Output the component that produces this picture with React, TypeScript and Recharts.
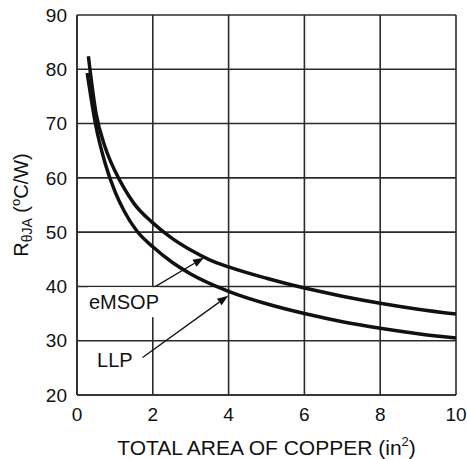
import { CartesianGrid, Line, LineChart, ReferenceDot, ReferenceLine, XAxis, YAxis } from 'recharts'

const xTicks = [0, 2, 4, 6, 8, 10]
const yTicks = [20, 30, 40, 50, 60, 70, 80, 90]

// copper area (in^2) vs thermal resistance (°C/W)
const emsopArea = [0.3, 0.5, 0.75, 1, 1.25, 1.5, 2, 2.5, 3, 3.5, 4, 5, 6, 7, 8, 9, 10]
const emsopTheta = [82.4, 72, 65.5, 61.3, 58, 55.3, 51.7, 48.9, 46.7, 44.9, 43.6, 41.5, 39.7, 38.2, 36.9, 35.8, 34.9]

const llpArea = [0.27, 0.5, 0.75, 1, 1.25, 1.58, 2, 2.5, 3, 4, 5, 6, 7, 8, 9, 10]
const llpTheta = [79.3, 69.5, 62.5, 57.5, 53.8, 50.2, 47.3, 44.5, 42.3, 39.1, 36.8, 35, 33.5, 32.3, 31.3, 30.5]

// annotation callouts: label position, arrow start, arrow end
const calloutNames = ['eMSOP', 'LLP']
const calloutText = [{ x: 1.24, y: 37.1 }, { x: 1.0, y: 26.5 }]
const calloutFrom = [{ x: 1.71, y: 38.5 }, { x: 1.73, y: 26.9 }]
const calloutTo = [{ x: 3.35, y: 45.3 }, { x: 3.99, y: 38.3 }]

const emsop = emsopArea.map((area, i) => ({ area, theta: emsopTheta[i] }))
const llp = llpArea.map((area, i) => ({ area, theta: llpTheta[i] }))

const INK = '#111'
const GRID = '#2b2b2b'
const FONT = 19

function Arrow(props: any) {
  const { x1, y1, x2, y2 } = props
  const ang = Math.atan2(y2 - y1, x2 - x1)
  const len = 11
  const w = 4
  const bx = x2 - len * Math.cos(ang)
  const by = y2 - len * Math.sin(ang)
  const px = -Math.sin(ang) * w
  const py = Math.cos(ang) * w
  return (
    <g>
      <line x1={x1} y1={y1} x2={bx} y2={by} stroke={INK} strokeWidth={1.3} />
      <polygon points={`${x2},${y2} ${bx + px},${by + py} ${bx - px},${by - py}`} fill={INK} />
    </g>
  )
}

function CalloutLabel(text: string) {
  return (props: any) => {
    const { cx, cy } = props
    const w = text.length * 13.5
    return (
      <g>
        <rect x={cx - w / 2 - 2} y={cy - 15} width={w + 4} height={30} fill="#fff" />
        <text x={cx} y={cy} dy="0.36em" textAnchor="middle" fontSize={FONT + 1} fill={INK}>
          {text}
        </text>
      </g>
    )
  }
}

function XTitle(props: any) {
  const { x, y, width } = props.viewBox
  return (
    <text x={x + width / 2} y={y + 60} textAnchor="middle" fontSize={21} fill={INK}>
      TOTAL AREA OF COPPER (in
      <tspan fontSize={13} dy={-9}>2</tspan>
      <tspan dy={9}>)</tspan>
    </text>
  )
}

function YTitle(props: any) {
  const { y, height } = props.viewBox
  const cx = 28
  const cy = y + height / 2
  return (
    <text x={cx} y={cy} textAnchor="middle" fontSize={20} fill={INK} transform={`rotate(-90 ${cx} ${cy})`}>
      R
      <tspan fontSize={14} dy={4}>θJA</tspan>
      <tspan dy={-4}> (</tspan>
      <tspan fontSize={13} dy={-8}>o</tspan>
      <tspan dy={8}>C/W)</tspan>
    </text>
  )
}

export default function App() {
  return (
    <div
      style={{
        position: 'absolute',
        left: 0,
        top: 0,
        width: 467,
        height: 459,
        background: '#fff',
        fontFamily: '"Liberation Sans", Arial, sans-serif',
      }}
    >
      <LineChart width={467} height={459} margin={{ top: 15, right: 11, bottom: 0, left: 0 }}>
        <CartesianGrid stroke={GRID} strokeWidth={1.6} />
        <XAxis
          type="number"
          dataKey="area"
          domain={[0, 10]}
          ticks={xTicks}
          tickLine={false}
          axisLine={{ stroke: GRID, strokeWidth: 1.6 }}
          tick={{ fontSize: FONT, fill: INK }}
          tickMargin={7}
          height={64}
          label={<XTitle />}
          allowDuplicatedCategory={false}
        />
        <YAxis
          type="number"
          domain={[20, 90]}
          ticks={yTicks}
          tickLine={false}
          axisLine={{ stroke: GRID, strokeWidth: 1.6 }}
          tick={{ fontSize: FONT, fill: INK }}
          tickMargin={4}
          width={77}
          label={<YTitle />}
        />
        <Line
          data={emsop}
          dataKey="theta"
          type="monotone"
          stroke={INK}
          strokeWidth={3.5}
          dot={false}
          isAnimationActive={false}
        />
        <Line
          data={llp}
          dataKey="theta"
          type="monotone"
          stroke={INK}
          strokeWidth={3.5}
          dot={false}
          isAnimationActive={false}
        />
        {calloutNames.map((name, i) => (
          <ReferenceLine
            key={`arrow-${name}`}
            segment={[calloutFrom[i], calloutTo[i]]}
            shape={<Arrow />}
            ifOverflow="visible"
          />
        ))}
        {calloutNames.map((name, i) => (
          <ReferenceDot
            key={`label-${name}`}
            x={calloutText[i].x}
            y={calloutText[i].y}
            r={0}
            shape={CalloutLabel(name)}
            ifOverflow="visible"
          />
        ))}
      </LineChart>
    </div>
  )
}
